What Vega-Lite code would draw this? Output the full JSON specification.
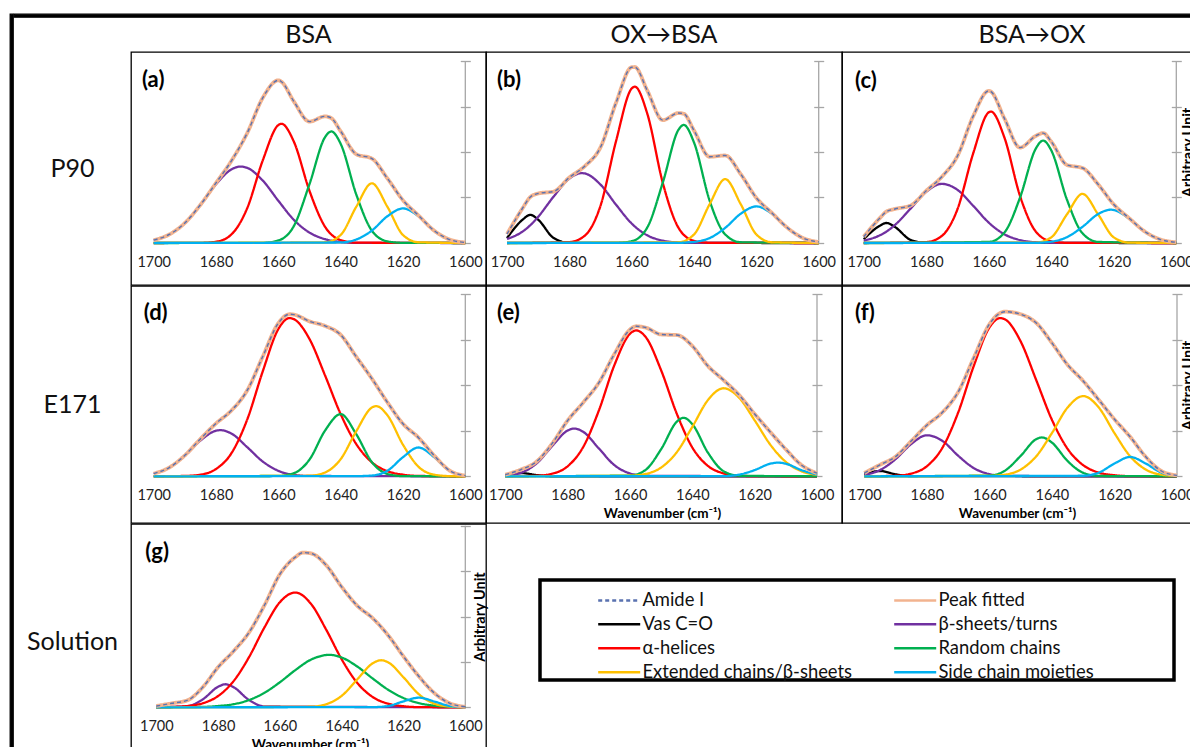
{
"$schema":"https://vega.github.io/schema/vega-lite/v6.json",
"padding":{"left":9,"top":13,"right":0,"bottom":0},
"background":"white",
"config":{"view":{"stroke":"black","strokeWidth":1.3},"font":"Lato",
 "legend":{"orient":"none","legendX":600,"legendY":577,"direction":"horizontal","columns":2,"symbolType":"M-4,0H4","symbolSize":110.25,"symbolStrokeWidth":2.5,"labelFont":"Lato","labelFontSize":18.4,"labelColor":"#111111","labelOffset":14,"columnPadding":36,"rowPadding":5,"padding":0,"labelLimit":400}},
"datasets":{"d":[
{"p":"a","x":1700,"A":0.016,"P":0.016,"B":0.016,"H":0,"R":0,"E":0,"S":0},
{"p":"a","x":1695,"A":0.047,"P":0.047,"B":0.047},
{"p":"a","x":1690,"A":0.11,"P":0.11,"B":0.11},
{"p":"a","x":1685,"A":0.21,"P":0.21,"B":0.209,"H":0.001},
{"p":"a","x":1680,"A":0.33,"P":0.33,"B":0.323,"H":0.007},
{"p":"a","x":1675,"A":0.453,"P":0.453,"B":0.405,"H":0.048},
{"p":"a","x":1672,"B":0.42},
{"p":"a","x":1670,"A":0.604,"P":0.604,"B":0.413,"H":0.191},
{"p":"a","x":1665,"A":0.798,"P":0.798,"B":0.343,"H":0.454,"R":0.001},
{"p":"a","x":1660,"A":0.894,"P":0.894,"B":0.232,"H":0.648,"R":0.014},
{"p":"a","x":1659,"A":0.886,"P":0.886,"H":0.655},
{"p":"a","x":1655,"A":0.777,"P":0.777,"B":0.127,"H":0.556,"R":0.094},
{"p":"a","x":1650,"A":0.667,"P":0.667,"B":0.057,"H":0.286,"R":0.324},
{"p":"a","x":1645,"A":0.696,"P":0.696,"B":0.021,"H":0.089,"R":0.582,"E":0.004},
{"p":"a","x":1643,"A":0.686,"P":0.686,"R":0.613},
{"p":"a","x":1640,"A":0.614,"P":0.614,"B":0.006,"H":0.016,"R":0.545,"E":0.044,"S":0.003},
{"p":"a","x":1635,"A":0.488,"P":0.488,"B":0.001,"H":0.002,"R":0.267,"E":0.199,"S":0.019},
{"p":"a","x":1630,"A":0.464,"P":0.464,"R":0.068,"E":0.328,"S":0.068},
{"p":"a","x":1625,"A":0.355,"P":0.355,"R":0.009,"E":0.199,"S":0.147},
{"p":"a","x":1620,"A":0.235,"P":0.235,"R":0.001,"E":0.044,"S":0.19},
{"p":"a","x":1615,"A":0.151,"P":0.151,"E":0.004,"S":0.147},
{"p":"a","x":1610,"A":0.068,"P":0.068,"S":0.068},
{"p":"a","x":1605,"A":0.019,"P":0.019,"S":0.019},
{"p":"a","x":1600,"A":0.003,"P":0.003,"B":0,"H":0,"R":0,"E":0,"S":0.003},

{"p":"b","x":1700,"A":0.049,"P":0.049,"V":0.027,"B":0.022,"H":0,"R":0,"E":0,"S":0},
{"p":"b","x":1695,"A":0.191,"P":0.191,"V":0.128,"B":0.063},
{"p":"b","x":1692.5,"A":0.253,"P":0.253,"V":0.155,"B":0.098},
{"p":"b","x":1690,"A":0.272,"P":0.272,"V":0.128,"B":0.144},
{"p":"b","x":1685,"A":0.283,"P":0.283,"V":0.027,"B":0.256},
{"p":"b","x":1680,"A":0.36,"P":0.36,"V":0.001,"B":0.354,"H":0.005},
{"p":"b","x":1676,"B":0.384},
{"p":"b","x":1675,"A":0.423,"P":0.423,"B":0.382,"H":0.041},
{"p":"b","x":1670,"A":0.526,"P":0.526,"B":0.321,"H":0.205},
{"p":"b","x":1665,"A":0.772,"P":0.772,"B":0.21,"H":0.561,"R":0.001},
{"p":"b","x":1660,"A":0.966,"P":0.966,"B":0.107,"H":0.849,"R":0.01},
{"p":"b","x":1659,"A":0.967,"P":0.967,"H":0.859},
{"p":"b","x":1655,"A":0.838,"P":0.838,"B":0.042,"H":0.711,"R":0.085},
{"p":"b","x":1650,"A":0.675,"P":0.675,"B":0.013,"H":0.329,"R":0.333},
{"p":"b","x":1645,"A":0.714,"P":0.714,"B":0.003,"H":0.084,"R":0.622,"E":0.004,"S":0.001},
{"p":"b","x":1643.3,"A":0.71,"P":0.71,"R":0.649},
{"p":"b","x":1640,"A":0.618,"P":0.618,"B":0.001,"H":0.012,"R":0.552,"E":0.047,"S":0.006},
{"p":"b","x":1635,"A":0.474,"P":0.474,"H":0.001,"R":0.233,"E":0.213,"S":0.027},
{"p":"b","x":1630,"A":0.481,"P":0.481,"R":0.047,"E":0.351,"S":0.083},
{"p":"b","x":1625,"A":0.378,"P":0.378,"R":0.004,"E":0.213,"S":0.161},
{"p":"b","x":1620,"A":0.248,"P":0.248,"E":0.047,"S":0.201},
{"p":"b","x":1615,"A":0.165,"P":0.165,"E":0.004,"S":0.161},
{"p":"b","x":1610,"A":0.083,"P":0.083,"S":0.083},
{"p":"b","x":1605,"A":0.027,"P":0.027,"S":0.027},
{"p":"b","x":1600,"A":0.006,"P":0.006,"V":0,"B":0,"H":0,"R":0,"E":0,"S":0.006},

{"p":"c","x":1700,"A":0.034,"P":0.034,"V":0.021,"B":0.013,"H":0,"R":0,"E":0,"S":0},
{"p":"c","x":1695,"A":0.134,"P":0.134,"V":0.093,"B":0.041},
{"p":"c","x":1692.7,"A":0.173,"P":0.173,"V":0.11,"B":0.063},
{"p":"c","x":1690,"A":0.187,"P":0.187,"V":0.088,"B":0.099},
{"p":"c","x":1685,"A":0.206,"P":0.206,"V":0.017,"B":0.189},
{"p":"c","x":1680,"A":0.287,"P":0.287,"V":0.001,"B":0.281,"H":0.005},
{"p":"c","x":1675,"A":0.364,"P":0.364,"B":0.325,"H":0.039},
{"p":"c","x":1670,"A":0.478,"P":0.478,"B":0.292,"H":0.186},
{"p":"c","x":1665,"A":0.696,"P":0.696,"B":0.205,"H":0.491},
{"p":"c","x":1660,"A":0.836,"P":0.836,"B":0.112,"H":0.718,"R":0.006},
{"p":"c","x":1659.3,"A":0.832,"P":0.832,"H":0.722},
{"p":"c","x":1655,"A":0.685,"P":0.685,"B":0.048,"H":0.58,"R":0.057},
{"p":"c","x":1650,"A":0.524,"P":0.524,"B":0.016,"H":0.259,"R":0.249},
{"p":"c","x":1645,"A":0.588,"P":0.588,"B":0.004,"H":0.064,"R":0.517,"E":0.002,"S":0.001},
{"p":"c","x":1642.6,"A":0.604,"P":0.604,"R":0.563},
{"p":"c","x":1640,"A":0.557,"P":0.557,"B":0.001,"H":0.009,"R":0.509,"E":0.031,"S":0.007},
{"p":"c","x":1635,"A":0.429,"P":0.429,"H":0.001,"R":0.239,"E":0.157,"S":0.032},
{"p":"c","x":1630,"A":0.412,"P":0.412,"R":0.053,"E":0.27,"S":0.089},
{"p":"c","x":1625,"A":0.322,"P":0.322,"R":0.006,"E":0.157,"S":0.159},
{"p":"c","x":1621,"S":0.183},
{"p":"c","x":1620,"A":0.212,"P":0.212,"E":0.031,"S":0.181},
{"p":"c","x":1615,"A":0.135,"P":0.135,"E":0.002,"S":0.133},
{"p":"c","x":1610,"A":0.062,"P":0.062,"S":0.062},
{"p":"c","x":1605,"A":0.019,"P":0.019,"S":0.019},
{"p":"c","x":1600,"A":0.004,"P":0.004,"V":0,"B":0,"H":0,"R":0,"E":0,"S":0.004},

{"p":"d","x":1700,"A":0.015,"P":0.015,"B":0.015,"H":0,"R":0,"E":0,"S":0},
{"p":"d","x":1695,"A":0.048,"P":0.048,"B":0.048},
{"p":"d","x":1690,"A":0.115,"P":0.115,"B":0.113,"H":0.002},
{"p":"d","x":1685,"A":0.205,"P":0.205,"B":0.196,"H":0.009},
{"p":"d","x":1680,"A":0.29,"P":0.29,"B":0.25,"H":0.04},
{"p":"d","x":1678.6,"B":0.253},
{"p":"d","x":1675,"A":0.362,"P":0.362,"B":0.234,"H":0.128},
{"p":"d","x":1670,"A":0.471,"P":0.471,"B":0.16,"H":0.311},
{"p":"d","x":1665,"A":0.657,"P":0.657,"B":0.081,"H":0.576},
{"p":"d","x":1660,"A":0.84,"P":0.84,"B":0.03,"H":0.808,"R":0.002},
{"p":"d","x":1656.4,"A":0.889,"P":0.889,"H":0.868},
{"p":"d","x":1655,"A":0.887,"P":0.887,"B":0.008,"H":0.862,"R":0.017},
{"p":"d","x":1650,"A":0.85,"P":0.85,"B":0.002,"H":0.753,"R":0.092,"E":0.003},
{"p":"d","x":1645,"A":0.825,"P":0.825,"H":0.553,"R":0.251,"E":0.021},
{"p":"d","x":1640,"A":0.776,"P":0.776,"H":0.341,"R":0.341,"E":0.094},
{"p":"d","x":1635,"A":0.656,"P":0.656,"H":0.177,"R":0.231,"E":0.247,"S":0.001},
{"p":"d","x":1630,"A":0.536,"P":0.536,"H":0.077,"R":0.078,"E":0.377,"S":0.004},
{"p":"d","x":1628.6,"E":0.385},
{"p":"d","x":1625,"A":0.406,"P":0.406,"H":0.028,"R":0.013,"E":0.335,"S":0.03},
{"p":"d","x":1620,"A":0.288,"P":0.288,"H":0.009,"R":0.001,"E":0.173,"S":0.105},
{"p":"d","x":1615,"A":0.212,"P":0.212,"H":0.002,"E":0.052,"S":0.158},
{"p":"d","x":1610,"A":0.114,"P":0.114,"E":0.009,"S":0.105},
{"p":"d","x":1605,"A":0.031,"P":0.031,"E":0.001,"S":0.03},
{"p":"d","x":1600,"A":0.004,"P":0.004,"B":0,"H":0,"R":0,"E":0,"S":0.004},

{"p":"e","x":1700,"A":0.009,"P":0.009,"V":0.006,"B":0.003,"H":0,"R":0,"E":0,"S":0},
{"p":"e","x":1695,"A":0.037,"P":0.037,"V":0.018,"B":0.019},
{"p":"e","x":1690,"A":0.08,"P":0.08,"V":0.007,"B":0.07,"H":0.003},
{"p":"e","x":1685,"A":0.179,"P":0.179,"V":0,"B":0.165,"H":0.014},
{"p":"e","x":1680,"A":0.306,"P":0.306,"B":0.251,"H":0.055},
{"p":"e","x":1677.8,"B":0.262},
{"p":"e","x":1675,"A":0.405,"P":0.405,"B":0.244,"H":0.161},
{"p":"e","x":1670,"A":0.513,"P":0.513,"B":0.153,"H":0.36},
{"p":"e","x":1665,"A":0.671,"P":0.671,"B":0.061,"H":0.61},
{"p":"e","x":1660,"A":0.805,"P":0.805,"B":0.016,"H":0.782,"R":0.004,"E":0.003},
{"p":"e","x":1658,"A":0.823,"P":0.823,"H":0.8},
{"p":"e","x":1655,"A":0.816,"P":0.816,"B":0.003,"H":0.765,"R":0.035,"E":0.013},
{"p":"e","x":1650,"A":0.778,"P":0.778,"H":0.581,"R":0.149,"E":0.048},
{"p":"e","x":1645,"A":0.775,"P":0.775,"H":0.344,"R":0.299,"E":0.132},
{"p":"e","x":1642.8,"R":0.321},
{"p":"e","x":1640,"A":0.715,"P":0.715,"H":0.158,"R":0.286,"E":0.271},
{"p":"e","x":1635,"A":0.605,"P":0.605,"H":0.057,"R":0.13,"E":0.418},
{"p":"e","x":1630,"A":0.528,"P":0.528,"H":0.016,"R":0.028,"E":0.483,"S":0.001},
{"p":"e","x":1625,"A":0.446,"P":0.446,"H":0.003,"R":0.003,"E":0.431,"S":0.009},
{"p":"e","x":1620,"A":0.342,"P":0.342,"H":0.001,"E":0.307,"S":0.034},
{"p":"e","x":1615,"A":0.243,"P":0.243,"E":0.174,"S":0.069},
{"p":"e","x":1612.5,"S":0.075},
{"p":"e","x":1610,"A":0.148,"P":0.148,"E":0.079,"S":0.069},
{"p":"e","x":1605,"A":0.062,"P":0.062,"E":0.028,"S":0.034},
{"p":"e","x":1600,"A":0.017,"P":0.017,"V":0,"B":0,"H":0,"R":0,"E":0.008,"S":0.009},

{"p":"f","x":1700,"A":0.018,"P":0.018,"V":0.01,"B":0.008,"H":0,"R":0,"E":0,"S":0},
{"p":"f","x":1695,"A":0.063,"P":0.063,"V":0.029,"B":0.034},
{"p":"f","x":1690,"A":0.108,"P":0.108,"V":0.011,"B":0.094,"H":0.003},
{"p":"f","x":1685,"A":0.193,"P":0.193,"V":0.001,"B":0.177,"H":0.015},
{"p":"f","x":1680,"A":0.28,"P":0.28,"B":0.225,"H":0.055},
{"p":"f","x":1675,"A":0.351,"P":0.351,"B":0.194,"H":0.157},
{"p":"f","x":1670,"A":0.462,"P":0.462,"B":0.113,"H":0.349},
{"p":"f","x":1665,"A":0.65,"P":0.65,"B":0.045,"H":0.605},
{"p":"f","x":1660,"A":0.834,"P":0.834,"B":0.012,"H":0.816,"R":0.004,"E":0.002},
{"p":"f","x":1656.5,"A":0.896,"P":0.896,"H":0.868},
{"p":"f","x":1655,"A":0.903,"P":0.903,"B":0.002,"H":0.861,"R":0.031,"E":0.009},
{"p":"f","x":1650,"A":0.889,"P":0.889,"H":0.74,"R":0.112,"E":0.037},
{"p":"f","x":1645,"A":0.841,"P":0.841,"H":0.527,"R":0.204,"E":0.11},
{"p":"f","x":1643.2,"R":0.213},
{"p":"f","x":1640,"A":0.732,"P":0.732,"H":0.31,"R":0.185,"E":0.237},
{"p":"f","x":1635,"A":0.612,"P":0.612,"H":0.151,"R":0.084,"E":0.377},
{"p":"f","x":1630,"A":0.523,"P":0.523,"H":0.061,"R":0.019,"E":0.44,"S":0.003},
{"p":"f","x":1625,"A":0.419,"P":0.419,"H":0.02,"R":0.002,"E":0.377,"S":0.02},
{"p":"f","x":1620,"A":0.313,"P":0.313,"H":0.006,"E":0.237,"S":0.07},
{"p":"f","x":1615,"A":0.217,"P":0.217,"H":0.001,"E":0.11,"S":0.106},
{"p":"f","x":1610,"A":0.107,"P":0.107,"E":0.037,"S":0.07},
{"p":"f","x":1605,"A":0.029,"P":0.029,"E":0.009,"S":0.02},
{"p":"f","x":1600,"A":0.005,"P":0.005,"V":0,"B":0,"H":0,"R":0,"E":0.002,"S":0.003},

{"p":"g","x":1700,"A":0.007,"P":0.007,"B":0,"H":0,"R":0,"E":0,"S":0},
{"p":"g","x":1695,"A":0.022,"P":0.022,"H":0.002},
{"p":"g","x":1690,"A":0.038,"P":0.038,"B":0.006,"H":0.007,"R":0.001},
{"p":"g","x":1685,"A":0.11,"P":0.11,"B":0.043,"H":0.022,"R":0.002},
{"p":"g","x":1680,"A":0.221,"P":0.221,"B":0.113,"H":0.062,"R":0.007},
{"p":"g","x":1677.6,"B":0.127},
{"p":"g","x":1675,"A":0.309,"P":0.309,"B":0.111,"H":0.144,"R":0.017},
{"p":"g","x":1670,"A":0.412,"P":0.412,"B":0.04,"H":0.276,"R":0.04},
{"p":"g","x":1665,"A":0.562,"P":0.562,"B":0.005,"H":0.44,"R":0.08},
{"p":"g","x":1660,"A":0.733,"P":0.733,"H":0.579,"R":0.138},
{"p":"g","x":1655,"A":0.827,"P":0.827,"H":0.632,"R":0.205},
{"p":"g","x":1652.5,"A":0.852,"P":0.852},
{"p":"g","x":1650,"A":0.848,"P":0.848,"H":0.571,"R":0.262,"E":0.003},
{"p":"g","x":1645,"A":0.782,"P":0.782,"H":0.427,"R":0.288,"E":0.017},
{"p":"g","x":1644.2,"R":0.289},
{"p":"g","x":1640,"A":0.663,"P":0.663,"H":0.264,"R":0.274,"E":0.063},
{"p":"g","x":1635,"A":0.56,"P":0.56,"H":0.135,"R":0.225,"E":0.153},
{"p":"g","x":1630,"A":0.491,"P":0.491,"H":0.057,"R":0.159,"E":0.242,"S":0.001},
{"p":"g","x":1627.2,"E":0.259},
{"p":"g","x":1625,"A":0.397,"P":0.397,"H":0.02,"R":0.097,"E":0.248,"S":0.007},
{"p":"g","x":1620,"A":0.28,"P":0.28,"H":0.006,"R":0.051,"E":0.165,"S":0.033},
{"p":"g","x":1615,"A":0.17,"P":0.17,"H":0.001,"R":0.023,"E":0.071,"S":0.053},
{"p":"g","x":1610,"A":0.078,"P":0.078,"R":0.009,"E":0.02,"S":0.032},
{"p":"g","x":1605,"A":0.022,"P":0.022,"R":0.003,"E":0.004,"S":0.007},
{"p":"g","x":1600,"A":0.003,"P":0.003,"B":0,"H":0,"R":0.001,"E":0,"S":0.001}
]},
"hconcat":[
 {"width":3,"height":760,"view":{"fill":"black","stroke":"black","strokeWidth":1.3},"data":{"values":[{}]},"mark":{"type":"point","size":0,"strokeWidth":0,"opacity":0}},
 {"vconcat":[
  {"width":1208,"height":3,"view":{"fill":"black","stroke":"black","strokeWidth":1.3},"data":{"values":[{}]},"mark":{"type":"point","size":0,"strokeWidth":0,"opacity":0}},
  {"hconcat":[
   {"width":117,"height":34,"data":{"values":[{"t":""}]},"mark":{"type":"text","font":"Lato","fontSize":25},"encoding":{"text":{"field":"t"}}},
   {"width":355,"height":34,"data":{"values":[{"t":"BSA"}]},"mark":{"type":"text","font":"Lato","fontSize":25,"color":"#111111"},"encoding":{"text":{"field":"t"}}},
   {"width":356,"height":34,"data":{"values":[{"t":"OX→BSA"}]},"mark":{"type":"text","font":"Lato","fontSize":25,"color":"#111111"},"encoding":{"text":{"field":"t"}}},
   {"width":380,"height":34,"data":{"values":[{"t":"BSA→OX"}]},"mark":{"type":"text","font":"Lato","fontSize":25,"color":"#111111"},"encoding":{"text":{"field":"t"}}}
  ],"spacing":0,"bounds":"flush"},
  {"hconcat":[
   {"width":117,"height":233,"data":{"values":[{"t":"P90"}]},"mark":{"type":"text","font":"Lato","fontSize":25,"color":"#111111"},"encoding":{"text":{"field":"t"}}},
   {"width":355,"height":233,"layer":[
     {"data":{"values":[{}]},"mark":{"type":"rule","color":"#A6A6A6","strokeWidth":1.3},"encoding":{"x":{"datum":1700,"type":"quantitative","scale":{"domain":[1593.357,1707.285],"reverse":true,"nice":false,"zero":false},"axis":{"values":[1600,1620,1640,1660,1680,1700],"offset":-42,"domain":false,"ticks":false,"tickSize":0,"grid":false,"labelFont":"Lato","labelFontSize":14.5,"labelColor":"#222222","labelPadding":12,"labelFlush":false,"labelOverlap":false,"format":"d","title":null}},"x2":{"datum":1600},"y":{"datum":0,"type":"quantitative","scale":{"domain":[-0.2308,1.0495],"nice":false,"zero":false},"axis":{"orient":"right","values":[0,0.25,0.5,0.75,1],"offset":-25.7,"domain":false,"labels":false,"tickSize":10,"tickColor":"#A6A6A6","tickWidth":1.3,"grid":false,"title":null}}}},
     {"data":{"values":[{}]},"mark":{"type":"rule","color":"#A6A6A6","strokeWidth":1.3},"encoding":{"x":{"datum":1600,"type":"quantitative","scale":{"domain":[1593.357,1707.285],"reverse":true,"nice":false,"zero":false},"axis":{"values":[1600,1620,1640,1660,1680,1700],"offset":-42,"domain":false,"ticks":false,"tickSize":0,"grid":false,"labelFont":"Lato","labelFontSize":14.5,"labelColor":"#222222","labelPadding":12,"labelFlush":false,"labelOverlap":false,"format":"d","title":null}},"y":{"datum":0,"type":"quantitative","scale":{"domain":[-0.2308,1.0495],"nice":false,"zero":false},"axis":{"orient":"right","values":[0,0.25,0.5,0.75,1],"offset":-25.7,"domain":false,"labels":false,"tickSize":10,"tickColor":"#A6A6A6","tickWidth":1.3,"grid":false,"title":null}},"y2":{"datum":1}}},
     {"data":{"name":"d"},"transform":[{"filter":"datum.p=='a'"},{"fold":["A","P","V","B","H","R","E","S"],"as":["key","val"]},{"filter":"isValid(datum.val)"}],
      "encoding":{
       "x":{"field":"x","type":"quantitative","scale":{"domain":[1593.357,1707.285],"reverse":true,"nice":false,"zero":false},"axis":{"values":[1600,1620,1640,1660,1680,1700],"offset":-42,"domain":false,"ticks":false,"tickSize":0,"grid":false,"labelFont":"Lato","labelFontSize":14.5,"labelColor":"#222222","labelPadding":12,"labelFlush":false,"labelOverlap":false,"format":"d","title":null}},
       "y":{"field":"val","type":"quantitative","scale":{"domain":[-0.2308,1.0495],"nice":false,"zero":false},"axis":{"orient":"right","values":[0,0.25,0.5,0.75,1],"offset":-25.7,"domain":false,"labels":false,"tickSize":10,"tickColor":"#A6A6A6","tickWidth":1.3,"grid":false,"title":null}},
       "color":{"field":"key","type":"nominal","scale":{"domain":["A","P","V","B","H","R","E","S"],"range":["#5A72B0","#F2B38F","#000000","#7030A0","#FF0000","#00B050","#FFC000","#00B0F0"]},"legend":{"title":null,"labelExpr":"datum.label=='A'?'Amide I':datum.label=='P'?'Peak fitted':datum.label=='V'?'Vas C=O':datum.label=='B'?'β-sheets/turns':datum.label=='H'?'α-helices':datum.label=='R'?'Random chains':datum.label=='E'?'Extended chains/β-sheets':'Side chain moieties'"}},
       "strokeDash":{"field":"key","type":"nominal","scale":{"domain":["A","P","V","B","H","R","E","S"],"range":[[4,3],[1,0],[1,0],[1,0],[1,0],[1,0],[1,0],[1,0]]},"legend":{"title":null,"labelExpr":"datum.label=='A'?'Amide I':datum.label=='P'?'Peak fitted':datum.label=='V'?'Vas C=O':datum.label=='B'?'β-sheets/turns':datum.label=='H'?'α-helices':datum.label=='R'?'Random chains':datum.label=='E'?'Extended chains/β-sheets':'Side chain moieties'"}}},
      "layer":[
       {"transform":[{"filter":{"field":"key","oneOf":["V","B","H","R","E","S"]}}],"mark":{"type":"line","interpolate":"monotone","strokeWidth":2.3,"invalid":"filter"}},
       {"transform":[{"filter":"datum.key=='P'"}],"mark":{"type":"line","interpolate":"monotone","strokeWidth":3.8,"invalid":"filter"}},
       {"transform":[{"filter":"datum.key=='A'"}],"mark":{"type":"line","interpolate":"monotone","strokeWidth":1.4,"invalid":"filter"}}
      ]},
     {"data":{"values":[{"lab":"(a)"}]},"mark":{"type":"text","align":"left","baseline":"middle","font":"Lato","fontSize":22,"fontWeight":"bold","color":"#000000"},"encoding":{"x":{"datum":1703.76,"type":"quantitative","scale":{"domain":[1593.357,1707.285],"reverse":true,"nice":false,"zero":false},"axis":{"values":[1600,1620,1640,1660,1680,1700],"offset":-42,"domain":false,"ticks":false,"tickSize":0,"grid":false,"labelFont":"Lato","labelFontSize":14.5,"labelColor":"#222222","labelPadding":12,"labelFlush":false,"labelOverlap":false,"format":"d","title":null}},"y":{"datum":0.8957,"type":"quantitative","scale":{"domain":[-0.2308,1.0495],"nice":false,"zero":false},"axis":{"orient":"right","values":[0,0.25,0.5,0.75,1],"offset":-25.7,"domain":false,"labels":false,"tickSize":10,"tickColor":"#A6A6A6","tickWidth":1.3,"grid":false,"title":null}},"text":{"field":"lab"}}}
   ]},
   {"width":356,"height":233,"layer":[
     {"data":{"values":[{}]},"mark":{"type":"rule","color":"#A6A6A6","strokeWidth":1.3},"encoding":{"x":{"datum":1700,"type":"quantitative","scale":{"domain":[1592.525,1706.737],"reverse":true,"nice":false,"zero":false},"axis":{"values":[1600,1620,1640,1660,1680,1700],"offset":-42,"domain":false,"ticks":false,"tickSize":0,"grid":false,"labelFont":"Lato","labelFontSize":14.5,"labelColor":"#222222","labelPadding":12,"labelFlush":false,"labelOverlap":false,"format":"d","title":null}},"x2":{"datum":1600},"y":{"datum":0,"type":"quantitative","scale":{"domain":[-0.2308,1.0495],"nice":false,"zero":false},"axis":{"orient":"right","values":[0,0.25,0.5,0.75,1],"offset":-28.3,"domain":false,"labels":false,"tickSize":10,"tickColor":"#A6A6A6","tickWidth":1.3,"grid":false,"title":null}}}},
     {"data":{"values":[{}]},"mark":{"type":"rule","color":"#A6A6A6","strokeWidth":1.3},"encoding":{"x":{"datum":1600,"type":"quantitative","scale":{"domain":[1592.525,1706.737],"reverse":true,"nice":false,"zero":false},"axis":{"values":[1600,1620,1640,1660,1680,1700],"offset":-42,"domain":false,"ticks":false,"tickSize":0,"grid":false,"labelFont":"Lato","labelFontSize":14.5,"labelColor":"#222222","labelPadding":12,"labelFlush":false,"labelOverlap":false,"format":"d","title":null}},"y":{"datum":0,"type":"quantitative","scale":{"domain":[-0.2308,1.0495],"nice":false,"zero":false},"axis":{"orient":"right","values":[0,0.25,0.5,0.75,1],"offset":-28.3,"domain":false,"labels":false,"tickSize":10,"tickColor":"#A6A6A6","tickWidth":1.3,"grid":false,"title":null}},"y2":{"datum":1}}},
     {"data":{"name":"d"},"transform":[{"filter":"datum.p=='b'"},{"fold":["A","P","V","B","H","R","E","S"],"as":["key","val"]},{"filter":"isValid(datum.val)"}],
      "encoding":{
       "x":{"field":"x","type":"quantitative","scale":{"domain":[1592.525,1706.737],"reverse":true,"nice":false,"zero":false},"axis":{"values":[1600,1620,1640,1660,1680,1700],"offset":-42,"domain":false,"ticks":false,"tickSize":0,"grid":false,"labelFont":"Lato","labelFontSize":14.5,"labelColor":"#222222","labelPadding":12,"labelFlush":false,"labelOverlap":false,"format":"d","title":null}},
       "y":{"field":"val","type":"quantitative","scale":{"domain":[-0.2308,1.0495],"nice":false,"zero":false},"axis":{"orient":"right","values":[0,0.25,0.5,0.75,1],"offset":-28.3,"domain":false,"labels":false,"tickSize":10,"tickColor":"#A6A6A6","tickWidth":1.3,"grid":false,"title":null}},
       "color":{"field":"key","type":"nominal","scale":{"domain":["A","P","V","B","H","R","E","S"],"range":["#5A72B0","#F2B38F","#000000","#7030A0","#FF0000","#00B050","#FFC000","#00B0F0"]},"legend":{"title":null,"labelExpr":"datum.label=='A'?'Amide I':datum.label=='P'?'Peak fitted':datum.label=='V'?'Vas C=O':datum.label=='B'?'β-sheets/turns':datum.label=='H'?'α-helices':datum.label=='R'?'Random chains':datum.label=='E'?'Extended chains/β-sheets':'Side chain moieties'"}},
       "strokeDash":{"field":"key","type":"nominal","scale":{"domain":["A","P","V","B","H","R","E","S"],"range":[[4,3],[1,0],[1,0],[1,0],[1,0],[1,0],[1,0],[1,0]]},"legend":{"title":null,"labelExpr":"datum.label=='A'?'Amide I':datum.label=='P'?'Peak fitted':datum.label=='V'?'Vas C=O':datum.label=='B'?'β-sheets/turns':datum.label=='H'?'α-helices':datum.label=='R'?'Random chains':datum.label=='E'?'Extended chains/β-sheets':'Side chain moieties'"}}},
      "layer":[
       {"transform":[{"filter":{"field":"key","oneOf":["V","B","H","R","E","S"]}}],"mark":{"type":"line","interpolate":"monotone","strokeWidth":2.3,"invalid":"filter"}},
       {"transform":[{"filter":"datum.key=='P'"}],"mark":{"type":"line","interpolate":"monotone","strokeWidth":3.8,"invalid":"filter"}},
       {"transform":[{"filter":"datum.key=='A'"}],"mark":{"type":"line","interpolate":"monotone","strokeWidth":1.4,"invalid":"filter"}}
      ]},
     {"data":{"values":[{"lab":"(b)"}]},"mark":{"type":"text","align":"left","baseline":"middle","font":"Lato","fontSize":22,"fontWeight":"bold","color":"#000000"},"encoding":{"x":{"datum":1703.21,"type":"quantitative","scale":{"domain":[1592.525,1706.737],"reverse":true,"nice":false,"zero":false},"axis":{"values":[1600,1620,1640,1660,1680,1700],"offset":-42,"domain":false,"ticks":false,"tickSize":0,"grid":false,"labelFont":"Lato","labelFontSize":14.5,"labelColor":"#222222","labelPadding":12,"labelFlush":false,"labelOverlap":false,"format":"d","title":null}},"y":{"datum":0.8957,"type":"quantitative","scale":{"domain":[-0.2308,1.0495],"nice":false,"zero":false},"axis":{"orient":"right","values":[0,0.25,0.5,0.75,1],"offset":-28.3,"domain":false,"labels":false,"tickSize":10,"tickColor":"#A6A6A6","tickWidth":1.3,"grid":false,"title":null}},"text":{"field":"lab"}}}
   ]},
   {"width":380,"height":233,"layer":[
     {"data":{"values":[{}]},"mark":{"type":"rule","color":"#A6A6A6","strokeWidth":1.3},"encoding":{"x":{"datum":1700,"type":"quantitative","scale":{"domain":[1585.381,1706.942],"reverse":true,"nice":false,"zero":false},"axis":{"values":[1600,1620,1640,1660,1680,1700],"offset":-42,"domain":false,"ticks":false,"tickSize":0,"grid":false,"labelFont":"Lato","labelFontSize":14.5,"labelColor":"#222222","labelPadding":12,"labelFlush":false,"labelOverlap":false,"format":"d","title":null}},"x2":{"datum":1600},"y":{"datum":0,"type":"quantitative","scale":{"domain":[-0.2308,1.0495],"nice":false,"zero":false},"axis":{"orient":"right","values":[0,0.25,0.5,0.75,1],"offset":-50.7,"domain":false,"labels":false,"tickSize":10,"tickColor":"#A6A6A6","tickWidth":1.3,"grid":false,"title":"Arbitrary Unit","titleFont":"Lato","titleFontSize":14.5,"titleFontWeight":"bold","titleColor":"#000000","titleAngle":270,"titleX":17.4,"titleY":100,"titleAlign":"center","titleBaseline":"middle"}}}},
     {"data":{"values":[{}]},"mark":{"type":"rule","color":"#A6A6A6","strokeWidth":1.3},"encoding":{"x":{"datum":1600,"type":"quantitative","scale":{"domain":[1585.381,1706.942],"reverse":true,"nice":false,"zero":false},"axis":{"values":[1600,1620,1640,1660,1680,1700],"offset":-42,"domain":false,"ticks":false,"tickSize":0,"grid":false,"labelFont":"Lato","labelFontSize":14.5,"labelColor":"#222222","labelPadding":12,"labelFlush":false,"labelOverlap":false,"format":"d","title":null}},"y":{"datum":0,"type":"quantitative","scale":{"domain":[-0.2308,1.0495],"nice":false,"zero":false},"axis":{"orient":"right","values":[0,0.25,0.5,0.75,1],"offset":-50.7,"domain":false,"labels":false,"tickSize":10,"tickColor":"#A6A6A6","tickWidth":1.3,"grid":false,"title":"Arbitrary Unit","titleFont":"Lato","titleFontSize":14.5,"titleFontWeight":"bold","titleColor":"#000000","titleAngle":270,"titleX":17.4,"titleY":100,"titleAlign":"center","titleBaseline":"middle"}},"y2":{"datum":1}}},
     {"data":{"name":"d"},"transform":[{"filter":"datum.p=='c'"},{"fold":["A","P","V","B","H","R","E","S"],"as":["key","val"]},{"filter":"isValid(datum.val)"}],
      "encoding":{
       "x":{"field":"x","type":"quantitative","scale":{"domain":[1585.381,1706.942],"reverse":true,"nice":false,"zero":false},"axis":{"values":[1600,1620,1640,1660,1680,1700],"offset":-42,"domain":false,"ticks":false,"tickSize":0,"grid":false,"labelFont":"Lato","labelFontSize":14.5,"labelColor":"#222222","labelPadding":12,"labelFlush":false,"labelOverlap":false,"format":"d","title":null}},
       "y":{"field":"val","type":"quantitative","scale":{"domain":[-0.2308,1.0495],"nice":false,"zero":false},"axis":{"orient":"right","values":[0,0.25,0.5,0.75,1],"offset":-50.7,"domain":false,"labels":false,"tickSize":10,"tickColor":"#A6A6A6","tickWidth":1.3,"grid":false,"title":"Arbitrary Unit","titleFont":"Lato","titleFontSize":14.5,"titleFontWeight":"bold","titleColor":"#000000","titleAngle":270,"titleX":17.4,"titleY":100,"titleAlign":"center","titleBaseline":"middle"}},
       "color":{"field":"key","type":"nominal","scale":{"domain":["A","P","V","B","H","R","E","S"],"range":["#5A72B0","#F2B38F","#000000","#7030A0","#FF0000","#00B050","#FFC000","#00B0F0"]},"legend":{"title":null,"labelExpr":"datum.label=='A'?'Amide I':datum.label=='P'?'Peak fitted':datum.label=='V'?'Vas C=O':datum.label=='B'?'β-sheets/turns':datum.label=='H'?'α-helices':datum.label=='R'?'Random chains':datum.label=='E'?'Extended chains/β-sheets':'Side chain moieties'"}},
       "strokeDash":{"field":"key","type":"nominal","scale":{"domain":["A","P","V","B","H","R","E","S"],"range":[[4,3],[1,0],[1,0],[1,0],[1,0],[1,0],[1,0],[1,0]]},"legend":{"title":null,"labelExpr":"datum.label=='A'?'Amide I':datum.label=='P'?'Peak fitted':datum.label=='V'?'Vas C=O':datum.label=='B'?'β-sheets/turns':datum.label=='H'?'α-helices':datum.label=='R'?'Random chains':datum.label=='E'?'Extended chains/β-sheets':'Side chain moieties'"}}},
      "layer":[
       {"transform":[{"filter":{"field":"key","oneOf":["V","B","H","R","E","S"]}}],"mark":{"type":"line","interpolate":"monotone","strokeWidth":2.3,"invalid":"filter"}},
       {"transform":[{"filter":"datum.key=='P'"}],"mark":{"type":"line","interpolate":"monotone","strokeWidth":3.8,"invalid":"filter"}},
       {"transform":[{"filter":"datum.key=='A'"}],"mark":{"type":"line","interpolate":"monotone","strokeWidth":1.4,"invalid":"filter"}}
      ]},
     {"data":{"values":[{"lab":"(c)"}]},"mark":{"type":"text","align":"left","baseline":"middle","font":"Lato","fontSize":22,"fontWeight":"bold","color":"#000000"},"encoding":{"x":{"datum":1702.78,"type":"quantitative","scale":{"domain":[1585.381,1706.942],"reverse":true,"nice":false,"zero":false},"axis":{"values":[1600,1620,1640,1660,1680,1700],"offset":-42,"domain":false,"ticks":false,"tickSize":0,"grid":false,"labelFont":"Lato","labelFontSize":14.5,"labelColor":"#222222","labelPadding":12,"labelFlush":false,"labelOverlap":false,"format":"d","title":null}},"y":{"datum":0.8902,"type":"quantitative","scale":{"domain":[-0.2308,1.0495],"nice":false,"zero":false},"axis":{"orient":"right","values":[0,0.25,0.5,0.75,1],"offset":-50.7,"domain":false,"labels":false,"tickSize":10,"tickColor":"#A6A6A6","tickWidth":1.3,"grid":false,"title":"Arbitrary Unit","titleFont":"Lato","titleFontSize":14.5,"titleFontWeight":"bold","titleColor":"#000000","titleAngle":270,"titleX":17.4,"titleY":100,"titleAlign":"center","titleBaseline":"middle"}},"text":{"field":"lab"}}}
   ]}
  ],"spacing":0,"bounds":"flush"},
  {"hconcat":[
   {"width":117,"height":237,"data":{"values":[{"t":"E171"}]},"mark":{"type":"text","font":"Lato","fontSize":25,"color":"#111111"},"encoding":{"text":{"field":"t"}}},
   {"width":355,"height":237,"layer":[
     {"data":{"values":[{}]},"mark":{"type":"rule","color":"#A6A6A6","strokeWidth":1.3},"encoding":{"x":{"datum":1700,"type":"quantitative","scale":{"domain":[1593.357,1707.285],"reverse":true,"nice":false,"zero":false},"axis":{"values":[1600,1620,1640,1660,1680,1700],"offset":-46.7,"domain":false,"ticks":false,"tickSize":0,"grid":false,"labelFont":"Lato","labelFontSize":14.5,"labelColor":"#222222","labelPadding":12,"labelFlush":false,"labelOverlap":false,"format":"d","title":null}},"x2":{"datum":1600},"y":{"datum":0,"type":"quantitative","scale":{"domain":[-0.2562,1.0439],"nice":false,"zero":false},"axis":{"orient":"right","values":[0,0.25,0.5,0.75,1],"offset":-25.7,"domain":false,"labels":false,"tickSize":10,"tickColor":"#A6A6A6","tickWidth":1.3,"grid":false,"title":null}}}},
     {"data":{"values":[{}]},"mark":{"type":"rule","color":"#A6A6A6","strokeWidth":1.3},"encoding":{"x":{"datum":1600,"type":"quantitative","scale":{"domain":[1593.357,1707.285],"reverse":true,"nice":false,"zero":false},"axis":{"values":[1600,1620,1640,1660,1680,1700],"offset":-46.7,"domain":false,"ticks":false,"tickSize":0,"grid":false,"labelFont":"Lato","labelFontSize":14.5,"labelColor":"#222222","labelPadding":12,"labelFlush":false,"labelOverlap":false,"format":"d","title":null}},"y":{"datum":0,"type":"quantitative","scale":{"domain":[-0.2562,1.0439],"nice":false,"zero":false},"axis":{"orient":"right","values":[0,0.25,0.5,0.75,1],"offset":-25.7,"domain":false,"labels":false,"tickSize":10,"tickColor":"#A6A6A6","tickWidth":1.3,"grid":false,"title":null}},"y2":{"datum":1}}},
     {"data":{"name":"d"},"transform":[{"filter":"datum.p=='d'"},{"fold":["A","P","V","B","H","R","E","S"],"as":["key","val"]},{"filter":"isValid(datum.val)"}],
      "encoding":{
       "x":{"field":"x","type":"quantitative","scale":{"domain":[1593.357,1707.285],"reverse":true,"nice":false,"zero":false},"axis":{"values":[1600,1620,1640,1660,1680,1700],"offset":-46.7,"domain":false,"ticks":false,"tickSize":0,"grid":false,"labelFont":"Lato","labelFontSize":14.5,"labelColor":"#222222","labelPadding":12,"labelFlush":false,"labelOverlap":false,"format":"d","title":null}},
       "y":{"field":"val","type":"quantitative","scale":{"domain":[-0.2562,1.0439],"nice":false,"zero":false},"axis":{"orient":"right","values":[0,0.25,0.5,0.75,1],"offset":-25.7,"domain":false,"labels":false,"tickSize":10,"tickColor":"#A6A6A6","tickWidth":1.3,"grid":false,"title":null}},
       "color":{"field":"key","type":"nominal","scale":{"domain":["A","P","V","B","H","R","E","S"],"range":["#5A72B0","#F2B38F","#000000","#7030A0","#FF0000","#00B050","#FFC000","#00B0F0"]},"legend":{"title":null,"labelExpr":"datum.label=='A'?'Amide I':datum.label=='P'?'Peak fitted':datum.label=='V'?'Vas C=O':datum.label=='B'?'β-sheets/turns':datum.label=='H'?'α-helices':datum.label=='R'?'Random chains':datum.label=='E'?'Extended chains/β-sheets':'Side chain moieties'"}},
       "strokeDash":{"field":"key","type":"nominal","scale":{"domain":["A","P","V","B","H","R","E","S"],"range":[[4,3],[1,0],[1,0],[1,0],[1,0],[1,0],[1,0],[1,0]]},"legend":{"title":null,"labelExpr":"datum.label=='A'?'Amide I':datum.label=='P'?'Peak fitted':datum.label=='V'?'Vas C=O':datum.label=='B'?'β-sheets/turns':datum.label=='H'?'α-helices':datum.label=='R'?'Random chains':datum.label=='E'?'Extended chains/β-sheets':'Side chain moieties'"}}},
      "layer":[
       {"transform":[{"filter":{"field":"key","oneOf":["V","B","H","R","E","S"]}}],"mark":{"type":"line","interpolate":"monotone","strokeWidth":2.3,"invalid":"filter"}},
       {"transform":[{"filter":"datum.key=='P'"}],"mark":{"type":"line","interpolate":"monotone","strokeWidth":3.8,"invalid":"filter"}},
       {"transform":[{"filter":"datum.key=='A'"}],"mark":{"type":"line","interpolate":"monotone","strokeWidth":1.4,"invalid":"filter"}}
      ]},
     {"data":{"values":[{"lab":"(d)"}]},"mark":{"type":"text","align":"left","baseline":"middle","font":"Lato","fontSize":22,"fontWeight":"bold","color":"#000000"},"encoding":{"x":{"datum":1703.21,"type":"quantitative","scale":{"domain":[1593.357,1707.285],"reverse":true,"nice":false,"zero":false},"axis":{"values":[1600,1620,1640,1660,1680,1700],"offset":-46.7,"domain":false,"ticks":false,"tickSize":0,"grid":false,"labelFont":"Lato","labelFontSize":14.5,"labelColor":"#222222","labelPadding":12,"labelFlush":false,"labelOverlap":false,"format":"d","title":null}},"y":{"datum":0.8958,"type":"quantitative","scale":{"domain":[-0.2562,1.0439],"nice":false,"zero":false},"axis":{"orient":"right","values":[0,0.25,0.5,0.75,1],"offset":-25.7,"domain":false,"labels":false,"tickSize":10,"tickColor":"#A6A6A6","tickWidth":1.3,"grid":false,"title":null}},"text":{"field":"lab"}}}
   ]},
   {"width":356,"height":237,"layer":[
     {"data":{"values":[{}]},"mark":{"type":"rule","color":"#A6A6A6","strokeWidth":1.3},"encoding":{"x":{"datum":1700,"type":"quantitative","scale":{"domain":[1591.979,1706.192],"reverse":true,"nice":false,"zero":false},"axis":{"values":[1600,1620,1640,1660,1680,1700],"offset":-46.7,"domain":false,"ticks":false,"tickSize":0,"grid":false,"labelFont":"Lato","labelFontSize":14.5,"labelColor":"#222222","labelPadding":12,"labelFlush":false,"labelOverlap":false,"format":"d","title":"Wavenumber (cm⁻¹)","titleFont":"Lato","titleFontSize":13.5,"titleFontWeight":"bold","titleColor":"#000000","titleX":176,"titleY":37,"titleAlign":"center","titleBaseline":"middle"}},"x2":{"datum":1600},"y":{"datum":0,"type":"quantitative","scale":{"domain":[-0.2562,1.0439],"nice":false,"zero":false},"axis":{"orient":"right","values":[0,0.25,0.5,0.75,1],"offset":-30,"domain":false,"labels":false,"tickSize":10,"tickColor":"#A6A6A6","tickWidth":1.3,"grid":false,"title":null}}}},
     {"data":{"values":[{}]},"mark":{"type":"rule","color":"#A6A6A6","strokeWidth":1.3},"encoding":{"x":{"datum":1600,"type":"quantitative","scale":{"domain":[1591.979,1706.192],"reverse":true,"nice":false,"zero":false},"axis":{"values":[1600,1620,1640,1660,1680,1700],"offset":-46.7,"domain":false,"ticks":false,"tickSize":0,"grid":false,"labelFont":"Lato","labelFontSize":14.5,"labelColor":"#222222","labelPadding":12,"labelFlush":false,"labelOverlap":false,"format":"d","title":"Wavenumber (cm⁻¹)","titleFont":"Lato","titleFontSize":13.5,"titleFontWeight":"bold","titleColor":"#000000","titleX":176,"titleY":37,"titleAlign":"center","titleBaseline":"middle"}},"y":{"datum":0,"type":"quantitative","scale":{"domain":[-0.2562,1.0439],"nice":false,"zero":false},"axis":{"orient":"right","values":[0,0.25,0.5,0.75,1],"offset":-30,"domain":false,"labels":false,"tickSize":10,"tickColor":"#A6A6A6","tickWidth":1.3,"grid":false,"title":null}},"y2":{"datum":1}}},
     {"data":{"name":"d"},"transform":[{"filter":"datum.p=='e'"},{"fold":["A","P","V","B","H","R","E","S"],"as":["key","val"]},{"filter":"isValid(datum.val)"}],
      "encoding":{
       "x":{"field":"x","type":"quantitative","scale":{"domain":[1591.979,1706.192],"reverse":true,"nice":false,"zero":false},"axis":{"values":[1600,1620,1640,1660,1680,1700],"offset":-46.7,"domain":false,"ticks":false,"tickSize":0,"grid":false,"labelFont":"Lato","labelFontSize":14.5,"labelColor":"#222222","labelPadding":12,"labelFlush":false,"labelOverlap":false,"format":"d","title":"Wavenumber (cm⁻¹)","titleFont":"Lato","titleFontSize":13.5,"titleFontWeight":"bold","titleColor":"#000000","titleX":176,"titleY":37,"titleAlign":"center","titleBaseline":"middle"}},
       "y":{"field":"val","type":"quantitative","scale":{"domain":[-0.2562,1.0439],"nice":false,"zero":false},"axis":{"orient":"right","values":[0,0.25,0.5,0.75,1],"offset":-30,"domain":false,"labels":false,"tickSize":10,"tickColor":"#A6A6A6","tickWidth":1.3,"grid":false,"title":null}},
       "color":{"field":"key","type":"nominal","scale":{"domain":["A","P","V","B","H","R","E","S"],"range":["#5A72B0","#F2B38F","#000000","#7030A0","#FF0000","#00B050","#FFC000","#00B0F0"]},"legend":{"title":null,"labelExpr":"datum.label=='A'?'Amide I':datum.label=='P'?'Peak fitted':datum.label=='V'?'Vas C=O':datum.label=='B'?'β-sheets/turns':datum.label=='H'?'α-helices':datum.label=='R'?'Random chains':datum.label=='E'?'Extended chains/β-sheets':'Side chain moieties'"}},
       "strokeDash":{"field":"key","type":"nominal","scale":{"domain":["A","P","V","B","H","R","E","S"],"range":[[4,3],[1,0],[1,0],[1,0],[1,0],[1,0],[1,0],[1,0]]},"legend":{"title":null,"labelExpr":"datum.label=='A'?'Amide I':datum.label=='P'?'Peak fitted':datum.label=='V'?'Vas C=O':datum.label=='B'?'β-sheets/turns':datum.label=='H'?'α-helices':datum.label=='R'?'Random chains':datum.label=='E'?'Extended chains/β-sheets':'Side chain moieties'"}}},
      "layer":[
       {"transform":[{"filter":{"field":"key","oneOf":["V","B","H","R","E","S"]}}],"mark":{"type":"line","interpolate":"monotone","strokeWidth":2.3,"invalid":"filter"}},
       {"transform":[{"filter":"datum.key=='P'"}],"mark":{"type":"line","interpolate":"monotone","strokeWidth":3.8,"invalid":"filter"}},
       {"transform":[{"filter":"datum.key=='A'"}],"mark":{"type":"line","interpolate":"monotone","strokeWidth":1.4,"invalid":"filter"}}
      ]},
     {"data":{"values":[{"lab":"(e)"}]},"mark":{"type":"text","align":"left","baseline":"middle","font":"Lato","fontSize":22,"fontWeight":"bold","color":"#000000"},"encoding":{"x":{"datum":1702.66,"type":"quantitative","scale":{"domain":[1591.979,1706.192],"reverse":true,"nice":false,"zero":false},"axis":{"values":[1600,1620,1640,1660,1680,1700],"offset":-46.7,"domain":false,"ticks":false,"tickSize":0,"grid":false,"labelFont":"Lato","labelFontSize":14.5,"labelColor":"#222222","labelPadding":12,"labelFlush":false,"labelOverlap":false,"format":"d","title":"Wavenumber (cm⁻¹)","titleFont":"Lato","titleFontSize":13.5,"titleFontWeight":"bold","titleColor":"#000000","titleX":176,"titleY":37,"titleAlign":"center","titleBaseline":"middle"}},"y":{"datum":0.8958,"type":"quantitative","scale":{"domain":[-0.2562,1.0439],"nice":false,"zero":false},"axis":{"orient":"right","values":[0,0.25,0.5,0.75,1],"offset":-30,"domain":false,"labels":false,"tickSize":10,"tickColor":"#A6A6A6","tickWidth":1.3,"grid":false,"title":null}},"text":{"field":"lab"}}}
   ]},
   {"width":380,"height":237,"layer":[
     {"data":{"values":[{}]},"mark":{"type":"rule","color":"#A6A6A6","strokeWidth":1.3},"encoding":{"x":{"datum":1700,"type":"quantitative","scale":{"domain":[1585.609,1707.131],"reverse":true,"nice":false,"zero":false},"axis":{"values":[1600,1620,1640,1660,1680,1700],"offset":-46.7,"domain":false,"ticks":false,"tickSize":0,"grid":false,"labelFont":"Lato","labelFontSize":14.5,"labelColor":"#222222","labelPadding":12,"labelFlush":false,"labelOverlap":false,"format":"d","title":"Wavenumber (cm⁻¹)","titleFont":"Lato","titleFontSize":13.5,"titleFontWeight":"bold","titleColor":"#000000","titleX":175,"titleY":37,"titleAlign":"center","titleBaseline":"middle"}},"x2":{"datum":1600},"y":{"datum":0,"type":"quantitative","scale":{"domain":[-0.2562,1.0439],"nice":false,"zero":false},"axis":{"orient":"right","values":[0,0.25,0.5,0.75,1],"offset":-50,"domain":false,"labels":false,"tickSize":10,"tickColor":"#A6A6A6","tickWidth":1.3,"grid":false,"title":"Arbitrary Unit","titleFont":"Lato","titleFontSize":14.5,"titleFontWeight":"bold","titleColor":"#000000","titleAngle":270,"titleX":16.7,"titleY":99,"titleAlign":"center","titleBaseline":"middle"}}}},
     {"data":{"values":[{}]},"mark":{"type":"rule","color":"#A6A6A6","strokeWidth":1.3},"encoding":{"x":{"datum":1600,"type":"quantitative","scale":{"domain":[1585.609,1707.131],"reverse":true,"nice":false,"zero":false},"axis":{"values":[1600,1620,1640,1660,1680,1700],"offset":-46.7,"domain":false,"ticks":false,"tickSize":0,"grid":false,"labelFont":"Lato","labelFontSize":14.5,"labelColor":"#222222","labelPadding":12,"labelFlush":false,"labelOverlap":false,"format":"d","title":"Wavenumber (cm⁻¹)","titleFont":"Lato","titleFontSize":13.5,"titleFontWeight":"bold","titleColor":"#000000","titleX":175,"titleY":37,"titleAlign":"center","titleBaseline":"middle"}},"y":{"datum":0,"type":"quantitative","scale":{"domain":[-0.2562,1.0439],"nice":false,"zero":false},"axis":{"orient":"right","values":[0,0.25,0.5,0.75,1],"offset":-50,"domain":false,"labels":false,"tickSize":10,"tickColor":"#A6A6A6","tickWidth":1.3,"grid":false,"title":"Arbitrary Unit","titleFont":"Lato","titleFontSize":14.5,"titleFontWeight":"bold","titleColor":"#000000","titleAngle":270,"titleX":16.7,"titleY":99,"titleAlign":"center","titleBaseline":"middle"}},"y2":{"datum":1}}},
     {"data":{"name":"d"},"transform":[{"filter":"datum.p=='f'"},{"fold":["A","P","V","B","H","R","E","S"],"as":["key","val"]},{"filter":"isValid(datum.val)"}],
      "encoding":{
       "x":{"field":"x","type":"quantitative","scale":{"domain":[1585.609,1707.131],"reverse":true,"nice":false,"zero":false},"axis":{"values":[1600,1620,1640,1660,1680,1700],"offset":-46.7,"domain":false,"ticks":false,"tickSize":0,"grid":false,"labelFont":"Lato","labelFontSize":14.5,"labelColor":"#222222","labelPadding":12,"labelFlush":false,"labelOverlap":false,"format":"d","title":"Wavenumber (cm⁻¹)","titleFont":"Lato","titleFontSize":13.5,"titleFontWeight":"bold","titleColor":"#000000","titleX":175,"titleY":37,"titleAlign":"center","titleBaseline":"middle"}},
       "y":{"field":"val","type":"quantitative","scale":{"domain":[-0.2562,1.0439],"nice":false,"zero":false},"axis":{"orient":"right","values":[0,0.25,0.5,0.75,1],"offset":-50,"domain":false,"labels":false,"tickSize":10,"tickColor":"#A6A6A6","tickWidth":1.3,"grid":false,"title":"Arbitrary Unit","titleFont":"Lato","titleFontSize":14.5,"titleFontWeight":"bold","titleColor":"#000000","titleAngle":270,"titleX":16.7,"titleY":99,"titleAlign":"center","titleBaseline":"middle"}},
       "color":{"field":"key","type":"nominal","scale":{"domain":["A","P","V","B","H","R","E","S"],"range":["#5A72B0","#F2B38F","#000000","#7030A0","#FF0000","#00B050","#FFC000","#00B0F0"]},"legend":{"title":null,"labelExpr":"datum.label=='A'?'Amide I':datum.label=='P'?'Peak fitted':datum.label=='V'?'Vas C=O':datum.label=='B'?'β-sheets/turns':datum.label=='H'?'α-helices':datum.label=='R'?'Random chains':datum.label=='E'?'Extended chains/β-sheets':'Side chain moieties'"}},
       "strokeDash":{"field":"key","type":"nominal","scale":{"domain":["A","P","V","B","H","R","E","S"],"range":[[4,3],[1,0],[1,0],[1,0],[1,0],[1,0],[1,0],[1,0]]},"legend":{"title":null,"labelExpr":"datum.label=='A'?'Amide I':datum.label=='P'?'Peak fitted':datum.label=='V'?'Vas C=O':datum.label=='B'?'β-sheets/turns':datum.label=='H'?'α-helices':datum.label=='R'?'Random chains':datum.label=='E'?'Extended chains/β-sheets':'Side chain moieties'"}}},
      "layer":[
       {"transform":[{"filter":{"field":"key","oneOf":["V","B","H","R","E","S"]}}],"mark":{"type":"line","interpolate":"monotone","strokeWidth":2.3,"invalid":"filter"}},
       {"transform":[{"filter":"datum.key=='P'"}],"mark":{"type":"line","interpolate":"monotone","strokeWidth":3.8,"invalid":"filter"}},
       {"transform":[{"filter":"datum.key=='A'"}],"mark":{"type":"line","interpolate":"monotone","strokeWidth":1.4,"invalid":"filter"}}
      ]},
     {"data":{"values":[{"lab":"(f)"}]},"mark":{"type":"text","align":"left","baseline":"middle","font":"Lato","fontSize":22,"fontWeight":"bold","color":"#000000"},"encoding":{"x":{"datum":1702.97,"type":"quantitative","scale":{"domain":[1585.609,1707.131],"reverse":true,"nice":false,"zero":false},"axis":{"values":[1600,1620,1640,1660,1680,1700],"offset":-46.7,"domain":false,"ticks":false,"tickSize":0,"grid":false,"labelFont":"Lato","labelFontSize":14.5,"labelColor":"#222222","labelPadding":12,"labelFlush":false,"labelOverlap":false,"format":"d","title":"Wavenumber (cm⁻¹)","titleFont":"Lato","titleFontSize":13.5,"titleFontWeight":"bold","titleColor":"#000000","titleX":175,"titleY":37,"titleAlign":"center","titleBaseline":"middle"}},"y":{"datum":0.8958,"type":"quantitative","scale":{"domain":[-0.2562,1.0439],"nice":false,"zero":false},"axis":{"orient":"right","values":[0,0.25,0.5,0.75,1],"offset":-50,"domain":false,"labels":false,"tickSize":10,"tickColor":"#A6A6A6","tickWidth":1.3,"grid":false,"title":"Arbitrary Unit","titleFont":"Lato","titleFontSize":14.5,"titleFontWeight":"bold","titleColor":"#000000","titleAngle":270,"titleX":16.7,"titleY":99,"titleAlign":"center","titleBaseline":"middle"}},"text":{"field":"lab"}}}
   ]}
  ],"spacing":0,"bounds":"flush"},
  {"hconcat":[
   {"width":117,"height":235,"data":{"values":[{"t":"Solution"}]},"mark":{"type":"text","font":"Lato","fontSize":25,"color":"#111111"},"encoding":{"text":{"field":"t"}}},
   {"width":355,"height":235,"layer":[
     {"data":{"values":[{}]},"mark":{"type":"rule","color":"#A6A6A6","strokeWidth":1.3},"encoding":{"x":{"datum":1700,"type":"quantitative","scale":{"domain":[1593.301,1708.188],"reverse":true,"nice":false,"zero":false},"axis":{"values":[1600,1620,1640,1660,1680,1700],"offset":-51.7,"domain":false,"ticks":false,"tickSize":0,"grid":false,"labelFont":"Lato","labelFontSize":14.5,"labelColor":"#222222","labelPadding":12,"labelFlush":false,"labelOverlap":false,"format":"d","title":"Wavenumber (cm⁻¹)","titleFont":"Lato","titleFontSize":13.5,"titleFontWeight":"bold","titleColor":"#000000","titleX":179,"titleY":37,"titleAlign":"center","titleBaseline":"middle"}},"x2":{"datum":1600},"y":{"datum":0,"type":"quantitative","scale":{"domain":[-0.2847,1.0094],"nice":false,"zero":false},"axis":{"orient":"right","values":[0,0.25,0.5,0.75,1],"offset":-25.7,"domain":false,"labels":false,"tickSize":10,"tickColor":"#A6A6A6","tickWidth":1.3,"grid":false,"title":"Arbitrary Unit","titleFont":"Lato","titleFontSize":14.5,"titleFontWeight":"bold","titleColor":"#000000","titleAngle":270,"titleX":20,"titleY":92.5,"titleAlign":"center","titleBaseline":"middle"}}}},
     {"data":{"values":[{}]},"mark":{"type":"rule","color":"#A6A6A6","strokeWidth":1.3},"encoding":{"x":{"datum":1600,"type":"quantitative","scale":{"domain":[1593.301,1708.188],"reverse":true,"nice":false,"zero":false},"axis":{"values":[1600,1620,1640,1660,1680,1700],"offset":-51.7,"domain":false,"ticks":false,"tickSize":0,"grid":false,"labelFont":"Lato","labelFontSize":14.5,"labelColor":"#222222","labelPadding":12,"labelFlush":false,"labelOverlap":false,"format":"d","title":"Wavenumber (cm⁻¹)","titleFont":"Lato","titleFontSize":13.5,"titleFontWeight":"bold","titleColor":"#000000","titleX":179,"titleY":37,"titleAlign":"center","titleBaseline":"middle"}},"y":{"datum":0,"type":"quantitative","scale":{"domain":[-0.2847,1.0094],"nice":false,"zero":false},"axis":{"orient":"right","values":[0,0.25,0.5,0.75,1],"offset":-25.7,"domain":false,"labels":false,"tickSize":10,"tickColor":"#A6A6A6","tickWidth":1.3,"grid":false,"title":"Arbitrary Unit","titleFont":"Lato","titleFontSize":14.5,"titleFontWeight":"bold","titleColor":"#000000","titleAngle":270,"titleX":20,"titleY":92.5,"titleAlign":"center","titleBaseline":"middle"}},"y2":{"datum":1}}},
     {"data":{"name":"d"},"transform":[{"filter":"datum.p=='g'"},{"fold":["A","P","V","B","H","R","E","S"],"as":["key","val"]},{"filter":"isValid(datum.val)"}],
      "encoding":{
       "x":{"field":"x","type":"quantitative","scale":{"domain":[1593.301,1708.188],"reverse":true,"nice":false,"zero":false},"axis":{"values":[1600,1620,1640,1660,1680,1700],"offset":-51.7,"domain":false,"ticks":false,"tickSize":0,"grid":false,"labelFont":"Lato","labelFontSize":14.5,"labelColor":"#222222","labelPadding":12,"labelFlush":false,"labelOverlap":false,"format":"d","title":"Wavenumber (cm⁻¹)","titleFont":"Lato","titleFontSize":13.5,"titleFontWeight":"bold","titleColor":"#000000","titleX":179,"titleY":37,"titleAlign":"center","titleBaseline":"middle"}},
       "y":{"field":"val","type":"quantitative","scale":{"domain":[-0.2847,1.0094],"nice":false,"zero":false},"axis":{"orient":"right","values":[0,0.25,0.5,0.75,1],"offset":-25.7,"domain":false,"labels":false,"tickSize":10,"tickColor":"#A6A6A6","tickWidth":1.3,"grid":false,"title":"Arbitrary Unit","titleFont":"Lato","titleFontSize":14.5,"titleFontWeight":"bold","titleColor":"#000000","titleAngle":270,"titleX":20,"titleY":92.5,"titleAlign":"center","titleBaseline":"middle"}},
       "color":{"field":"key","type":"nominal","scale":{"domain":["A","P","V","B","H","R","E","S"],"range":["#5A72B0","#F2B38F","#000000","#7030A0","#FF0000","#00B050","#FFC000","#00B0F0"]},"legend":{"title":null,"labelExpr":"datum.label=='A'?'Amide I':datum.label=='P'?'Peak fitted':datum.label=='V'?'Vas C=O':datum.label=='B'?'β-sheets/turns':datum.label=='H'?'α-helices':datum.label=='R'?'Random chains':datum.label=='E'?'Extended chains/β-sheets':'Side chain moieties'"}},
       "strokeDash":{"field":"key","type":"nominal","scale":{"domain":["A","P","V","B","H","R","E","S"],"range":[[4,3],[1,0],[1,0],[1,0],[1,0],[1,0],[1,0],[1,0]]},"legend":{"title":null,"labelExpr":"datum.label=='A'?'Amide I':datum.label=='P'?'Peak fitted':datum.label=='V'?'Vas C=O':datum.label=='B'?'β-sheets/turns':datum.label=='H'?'α-helices':datum.label=='R'?'Random chains':datum.label=='E'?'Extended chains/β-sheets':'Side chain moieties'"}}},
      "layer":[
       {"transform":[{"filter":{"field":"key","oneOf":["V","B","H","R","E","S"]}}],"mark":{"type":"line","interpolate":"monotone","strokeWidth":2.3,"invalid":"filter"}},
       {"transform":[{"filter":"datum.key=='P'"}],"mark":{"type":"line","interpolate":"monotone","strokeWidth":3.8,"invalid":"filter"}},
       {"transform":[{"filter":"datum.key=='A'"}],"mark":{"type":"line","interpolate":"monotone","strokeWidth":1.4,"invalid":"filter"}}
      ]},
     {"data":{"values":[{"lab":"(g)"}]},"mark":{"type":"text","align":"left","baseline":"middle","font":"Lato","fontSize":22,"fontWeight":"bold","color":"#000000"},"encoding":{"x":{"datum":1703.56,"type":"quantitative","scale":{"domain":[1593.301,1708.188],"reverse":true,"nice":false,"zero":false},"axis":{"values":[1600,1620,1640,1660,1680,1700],"offset":-51.7,"domain":false,"ticks":false,"tickSize":0,"grid":false,"labelFont":"Lato","labelFontSize":14.5,"labelColor":"#222222","labelPadding":12,"labelFlush":false,"labelOverlap":false,"format":"d","title":"Wavenumber (cm⁻¹)","titleFont":"Lato","titleFontSize":13.5,"titleFontWeight":"bold","titleColor":"#000000","titleX":179,"titleY":37,"titleAlign":"center","titleBaseline":"middle"}},"y":{"datum":0.8536,"type":"quantitative","scale":{"domain":[-0.2847,1.0094],"nice":false,"zero":false},"axis":{"orient":"right","values":[0,0.25,0.5,0.75,1],"offset":-25.7,"domain":false,"labels":false,"tickSize":10,"tickColor":"#A6A6A6","tickWidth":1.3,"grid":false,"title":"Arbitrary Unit","titleFont":"Lato","titleFontSize":14.5,"titleFontWeight":"bold","titleColor":"#000000","titleAngle":270,"titleX":20,"titleY":92.5,"titleAlign":"center","titleBaseline":"middle"}},"text":{"field":"lab"}}}
   ]},
   {"width":54,"height":235,"view":{"stroke":null},"data":{"values":[{}]},"mark":{"type":"point","size":0,"strokeWidth":0,"opacity":0}},
   {"vconcat":[
     {"width":634,"height":56,"view":{"stroke":null},"data":{"values":[{}]},"mark":{"type":"point","size":0,"strokeWidth":0,"opacity":0}},
     {"width":634,"height":100,"view":{"stroke":"black","strokeWidth":3.5},"data":{"values":[{}]},"mark":{"type":"point","size":0,"strokeWidth":0,"opacity":0}}
   ],"spacing":0,"bounds":"flush"}
  ],"spacing":0,"bounds":"flush"}
 ],"spacing":-1.3,"bounds":"full"}
],
"spacing":-1.3,
"bounds":"full"
}
